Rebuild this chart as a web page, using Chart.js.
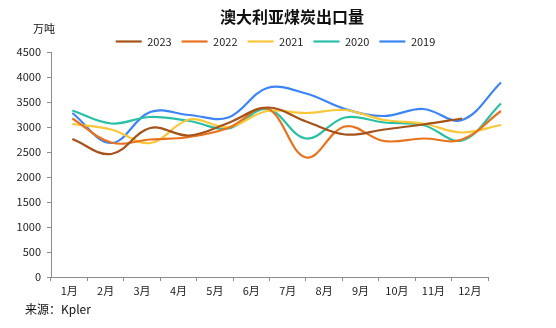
<!DOCTYPE html>
<html lang="zh-CN">
<head>
<meta charset="utf-8">
<title>澳大利亚煤炭出口量</title>
<script src="https://cdnjs.cloudflare.com/ajax/libs/Chart.js/4.4.1/chart.umd.min.js"></script>
<style>
  body { margin: 0; background: #fff; }
  #wrap { position: relative; width: 556px; height: 328px; font-family: "Noto Sans CJK SC", "Noto Sans", sans-serif; color: #111; }
  #coalChart { position: absolute; left: 0; top: 0; }
  .note { position: absolute; white-space: nowrap; line-height: 1; }
  #chartTitle { left: 292px; top: 8px; transform: translateX(-50%); font-size: 16px; font-weight: bold; }
  #unit { left: 33px; top: 23px; font-size: 11px; }
  #source { left: 25px; top: 303px; font-size: 12px; }
</style>
</head>
<body>
<div id="wrap">
  <canvas id="coalChart" width="556" height="328"></canvas>
  <div class="note" id="chartTitle">澳大利亚煤炭出口量</div>
  <div class="note" id="unit">万吨</div>
  <div class="note" id="source">来源：Kpler</div>
</div>
<script>
// 月度出口量，单位：万吨
const MONTH_LABELS = ["1月", "2月", "3月", "4月", "5月", "6月", "7月", "8月", "9月", "10月", "11月", "12月"];
const MONTHS = [1, 2, 3, 4, 5, 6, 7, 8, 9, 10, 11, 12];
const Y_TICKS = [0, 500, 1000, 1500, 2000, 2500, 3000, 3500, 4000, 4500];

const EXPORT_2023 = [2760, 2460, 2980, 2830, 3080, 3390, 3110, 2850, 2950, 3050, 3170];
const EXPORT_2022 = [3170, 2690, 2750, 2800, 2980, 3370, 2390, 3010, 2720, 2770, 2750, 3320];
const EXPORT_2021 = [3060, 2950, 2680, 3150, 3000, 3320, 3280, 3340, 3140, 3070, 2890, 3040];
const EXPORT_2020 = [3330, 3070, 3200, 3120, 2970, 3360, 2770, 3190, 3090, 3040, 2730, 3470];
const EXPORT_2019 = [3280, 2680, 3300, 3240, 3190, 3780, 3670, 3360, 3220, 3360, 3140, 3890];

const SERIES = [
  { label: "2023", values: EXPORT_2023, color: "#a5521b" },
  { label: "2022", values: EXPORT_2022, color: "#e8731f" },
  { label: "2021", values: EXPORT_2021, color: "#f9c73a" },
  { label: "2020", values: EXPORT_2020, color: "#2bc0a6" },
  { label: "2019", values: EXPORT_2019, color: "#3d85f7" }
];

const AXIS_COLOR = "#8c8c8c";
const TEXT_COLOR = "#222";
const FONT_FAMILY = '"Noto Sans CJK SC", "Noto Sans", sans-serif';
const LEGEND_SHIFT = 6;

function toPoints(values) {
  return values.map((value, index) => ({ x: MONTHS[index], y: value }));
}

function buildDatasets() {
  return SERIES.map((series) => ({
    label: series.label,
    data: toPoints(series.values),
    xAxisID: "xLine",
    borderColor: series.color,
    backgroundColor: series.color,
    borderWidth: 2.2,
    pointRadius: 0,
    tension: 0.38,
    clip: false
  }));
}

// nudge the legend a little to the right of the plot centre
const legendShift = {
  id: "legendShift",
  afterLayout(chart) {
    if (chart.legend) {
      chart.legend.left += LEGEND_SHIFT;
      chart.legend.right += LEGEND_SHIFT;
    }
  }
};

function renderChart() {
  const canvas = document.getElementById("coalChart");

  new Chart(canvas, {
    type: "line",
    data: {
      labels: MONTH_LABELS,
      datasets: buildDatasets()
    },
    plugins: [legendShift],
    options: {
      responsive: false,
      animation: false,
      devicePixelRatio: 1,
      layout: {
        padding: { top: 26, left: 0, right: 68, bottom: 0 }
      },
      plugins: {
        title: { display: false },
        tooltip: { enabled: false },
        legend: {
          position: "top",
          fullSize: false,
          maxHeight: 26,
          labels: {
            usePointStyle: true,
            pointStyle: "line",
            pointStyleWidth: 26,
            boxHeight: 11,
            padding: 10,
            color: TEXT_COLOR,
            font: { family: FONT_FAMILY, size: 11 }
          }
        }
      },
      scales: {
        x: {
          type: "category",
          offset: true,
          border: { color: AXIS_COLOR, width: 1 },
          grid: { offset: true, drawOnChartArea: false, drawTicks: true, tickLength: 4, color: AXIS_COLOR },
          ticks: {
            color: TEXT_COLOR,
            padding: 3,
            maxRotation: 0,
            autoSkip: false,
            font: { family: FONT_FAMILY, size: 11 }
          },
          afterFit(scale) {
            scale.height = 51;
          }
        },
        xLine: {
          type: "linear",
          display: false,
          min: 0.4534,
          max: 11.667
        },
        y: {
          min: Y_TICKS[0],
          max: Y_TICKS[Y_TICKS.length - 1],
          border: { color: AXIS_COLOR, width: 1 },
          grid: { drawOnChartArea: false, drawTicks: true, tickLength: 4, color: AXIS_COLOR },
          afterBuildTicks(scale) {
            scale.ticks = Y_TICKS.map((value) => ({ value }));
          },
          ticks: {
            color: TEXT_COLOR,
            padding: 6,
            font: { family: FONT_FAMILY, size: 11 },
            callback: (value) => String(value)
          },
          afterFit(scale) {
            scale.width = 51;
          }
        }
      }
    }
  });
}

document.addEventListener("DOMContentLoaded", renderChart);
</script>
</body>
</html>
